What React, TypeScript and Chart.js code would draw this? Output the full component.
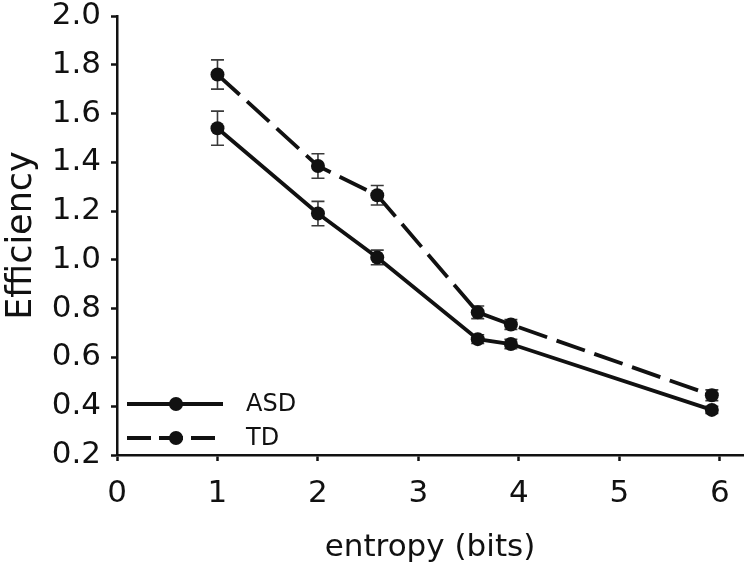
import React, { useEffect, useRef } from "react";
import { Chart, registerables } from "chart.js";

Chart.register(...registerables);

const entropy = [1, 2, 2.59, 3.59, 3.92, 5.92];
const asdValues = [1.54, 1.19, 1.01, 0.675, 0.655, 0.385];
const asdErrors = [0.07, 0.05, 0.03, 0.018, 0.019, 0.015];
const tdValues = [1.76, 1.385, 1.265, 0.785, 0.735, 0.445];
const tdErrors = [0.06, 0.05, 0.04, 0.026, 0.02, 0.022];
const xTicks = [0, 1, 2, 3, 4, 5, 6];
const yTicks = [0.2, 0.4, 0.6, 0.8, 1.0, 1.2, 1.4, 1.6, 1.8, 2.0];
const seriesNames = ["ASD", "TD"];
const xTitle = "entropy (bits)";
const yTitle = "Efficiency";

const FONT = "'DejaVu Sans', 'Liberation Sans', Arial, sans-serif";
const INK = "#111111";

export default function App() {
  const ref = useRef<HTMLCanvasElement | null>(null);

  useEffect(() => {
    const canvas = ref.current;
    if (!canvas) return;

    const errorBars = {
      id: "errorBars",
      beforeDatasetsDraw(chart: any) {
        const ctx = chart.ctx;
        const xs = chart.scales.x;
        const ys = chart.scales.y;
        const sets = [
          { v: asdValues, e: asdErrors },
          { v: tdValues, e: tdErrors },
        ];
        ctx.save();
        ctx.strokeStyle = "#3a3a3a";
        ctx.lineWidth = 1.6;
        sets.forEach((s) => {
          s.v.forEach((val, i) => {
            const px = xs.getPixelForValue(entropy[i]);
            const top = ys.getPixelForValue(val + s.e[i]);
            const bot = ys.getPixelForValue(val - s.e[i]);
            ctx.beginPath();
            ctx.moveTo(px, top);
            ctx.lineTo(px, bot);
            ctx.moveTo(px - 6.5, top);
            ctx.lineTo(px + 6.5, top);
            ctx.moveTo(px - 6.5, bot);
            ctx.lineTo(px + 6.5, bot);
            ctx.stroke();
          });
        });
        ctx.restore();
      },
    };

    const legendPlugin = {
      id: "customLegend",
      afterDatasetsDraw(chart: any) {
        const ctx = chart.ctx;
        const area = chart.chartArea;
        const x0 = area.left + 10;
        const rows = [
          { y: area.bottom - 51, dash: [] as number[], end: x0 + 96, name: seriesNames[0] },
          { y: area.bottom - 17, dash: [24, 8], end: x0 + 88, name: seriesNames[1] },
        ];
        ctx.save();
        rows.forEach((r) => {
          ctx.strokeStyle = INK;
          ctx.lineWidth = 3.8;
          ctx.setLineDash(r.dash);
          ctx.beginPath();
          ctx.moveTo(x0, r.y);
          ctx.lineTo(r.end, r.y);
          ctx.stroke();
          ctx.setLineDash([]);
          ctx.fillStyle = INK;
          ctx.beginPath();
          ctx.arc(x0 + 49, r.y, 7, 0, Math.PI * 2);
          ctx.fill();
          ctx.font = `24px ${FONT}`;
          ctx.textBaseline = "middle";
          ctx.textAlign = "left";
          ctx.fillText(r.name, x0 + 119, r.y + 1);
        });
        ctx.restore();
      },
    };

    const chart = new Chart(canvas, {
      type: "line",
      data: {
        datasets: [
          {
            label: seriesNames[0],
            data: entropy.map((x, i) => ({ x, y: asdValues[i] })),
            borderColor: INK,
            backgroundColor: INK,
            borderWidth: 3.8,
            pointRadius: 7,
            pointBorderWidth: 0,
            pointBackgroundColor: INK,
            tension: 0,
          },
          {
            label: seriesNames[1],
            data: entropy.map((x, i) => ({ x, y: tdValues[i] })),
            borderColor: INK,
            backgroundColor: INK,
            borderWidth: 3.8,
            borderDash: [30, 10],
            pointRadius: 7,
            pointBorderWidth: 0,
            pointBackgroundColor: INK,
            tension: 0,
          },
        ],
      },
      options: {
        responsive: false,
        animation: false,
        devicePixelRatio: 1,
        layout: { padding: { top: 16, right: 4, left: 0, bottom: 0 } },
        plugins: {
          legend: { display: false },
          tooltip: { enabled: false },
        },
        scales: {
          x: {
            type: "linear",
            min: 0,
            max: 6.23,
            afterBuildTicks: (scale: any) => {
              scale.ticks = xTicks.map((v) => ({ value: v }));
            },
            afterFit: (scale: any) => {
              scale.height = 113;
              scale.paddingLeft = 0;
              scale.paddingRight = 0;
            },
            border: { color: INK, width: 2.5 },
            grid: {
              drawOnChartArea: false,
              drawTicks: true,
              tickLength: 6,
              tickWidth: 2.5,
              tickColor: INK,
            },
            ticks: {
              color: INK,
              padding: 14,
              font: { family: FONT, size: 31 },
              maxRotation: 0,
              callback: (v: any) => String(v),
            },
            title: {
              display: true,
              text: xTitle,
              color: INK,
              font: { family: FONT, size: 31 },
              padding: { top: 0, bottom: 1 },
            },
          },
          y: {
            type: "linear",
            min: 0.2,
            max: 2.0,
            afterBuildTicks: (scale: any) => {
              scale.ticks = yTicks.map((v) => ({ value: v }));
            },
            afterFit: (scale: any) => {
              scale.width = 117;
              scale.paddingTop = 0;
              scale.paddingBottom = 0;
            },
            border: { color: INK, width: 2.5 },
            grid: {
              drawOnChartArea: false,
              drawTicks: true,
              tickLength: 6,
              tickWidth: 2.5,
              tickColor: INK,
            },
            ticks: {
              color: INK,
              padding: 10,
              font: { family: FONT, size: 31 },
              callback: (v: any) => Number(v).toFixed(1),
            },
            title: {
              display: true,
              text: yTitle,
              color: INK,
              font: { family: FONT, size: 35 },
              padding: { top: 1, bottom: 0 },
            },
          },
        },
      },
      plugins: [errorBars, legendPlugin],
    } as any);

    return () => chart.destroy();
  }, []);

  return (
    <div style={{ position: "fixed", left: 0, top: 0, width: 750, height: 568, background: "#fff" }}>
      <canvas ref={ref} width={750} height={568} style={{ width: 750, height: 568 }} />
    </div>
  );
}
